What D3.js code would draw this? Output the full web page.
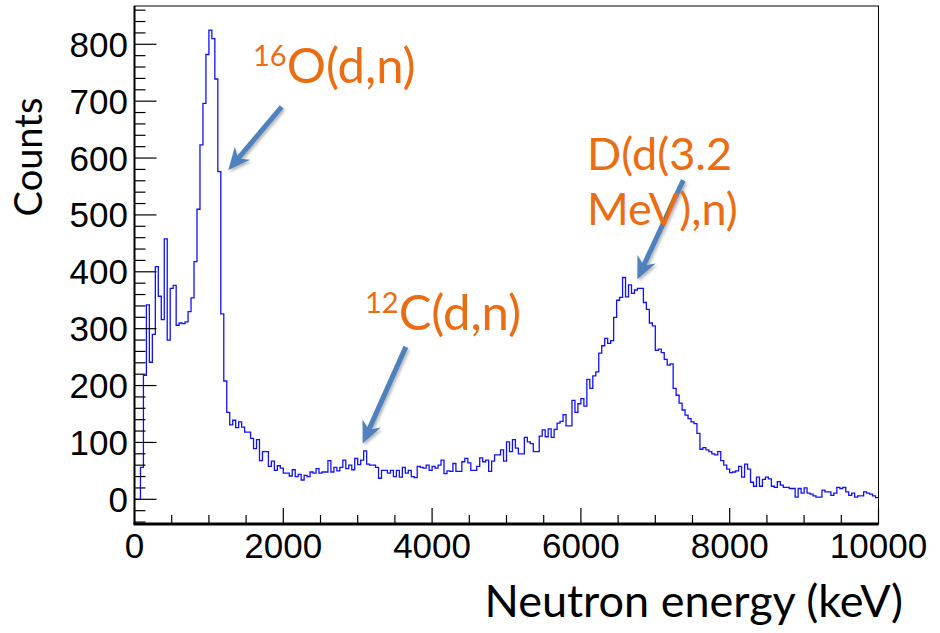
<!DOCTYPE html>
<html>
<head>
<meta charset="utf-8">
<script src="https://cdn.jsdelivr.net/npm/d3@7"></script>
<style>
  body { margin: 0; background: #ffffff; }
  svg { display: block; }
</style>
</head>
<body>
<svg id="chart"></svg>
<script>
// Histogram: neutron energy spectrum, 40 keV bins from 0 to 10000 keV
const binWidth = 40;
const counts = [
  0, 0, 56, 218, 342, 241, 290, 409, 357, 316,
  458, 280, 371, 376, 306, 310, 309, 312, 330, 354,
  418, 510, 623, 696, 782, 825, 810, 739, 576, 326,
  208, 153, 131, 139, 126, 136, 127, 118, 118, 107,
  89, 105, 68, 84, 84, 58, 67, 51, 59, 55,
  46, 46, 41, 52, 40, 44, 34, 42, 40, 48,
  46, 54, 46, 48, 48, 68, 48, 56, 50, 56,
  69, 54, 60, 52, 72, 61, 69, 85, 62, 60,
  60, 56, 37, 51, 51, 46, 51, 40, 51, 39,
  56, 46, 51, 40, 38, 58, 56, 55, 60, 51,
  58, 55, 60, 69, 45, 50, 49, 63, 49, 49,
  66, 72, 64, 51, 51, 58, 73, 66, 69, 49,
  67, 78, 78, 87, 67, 101, 84, 105, 90, 80,
  80, 109, 101, 98, 84, 84, 111, 122, 110, 124,
  109, 123, 134, 137, 149, 129, 129, 174, 153, 168,
  177, 164, 211, 195, 217, 224, 257, 270, 283, 274,
  279, 320, 350, 355, 390, 356, 377, 362, 368, 371,
  371, 346, 334, 310, 305, 262, 264, 258, 246, 236,
  238, 195, 183, 169, 157, 148, 142, 136, 133, 116,
  88, 91, 87, 84, 80, 78, 84, 68, 60, 53,
  47, 48, 50, 58, 39, 62, 53, 30, 23, 39,
  23, 35, 39, 36, 23, 21, 31, 25, 21, 21,
  19, 19, 4, 19, 11, 20, 11, 9, 6, 4,
  4, 16, 13, 13, 7, 11, 21, 19, 21, 13,
  7, 11, 4, 6, 6, 13, 11, 9, 6, 3
];

// Axis ticks
const xMajorTicks = [0, 2000, 4000, 6000, 8000, 10000];
const yMajorTicks = [0, 100, 200, 300, 400, 500, 600, 700, 800];

// Annotation labels (superscript, main text lines) and arrows, in data units
const labelSup = ["16", "12", ""];
const labelText = [["O(d,n)"], ["C(d,n)"], ["D(d(3.2", "MeV),n)"]];
const labelAt = [[1593, 732], [3098, 298], [6082, 579]]; // [keV, counts] of first baseline
const arrowFrom = [[1978, 690], [3647, 268], [7376, 561]];
const arrowTo = [[1261, 579], [3067, 98], [6758, 387]];

const width = 940;
const height = 633;

const svg = d3.select("#chart").attr("width", width).attr("height", height);

svg.append("rect").attr("width", width).attr("height", height).attr("fill", "#ffffff");

// Scales (frame 134.5..878.5 x 6..524)
const x = d3.scaleLinear().domain([0, 10000]).range([134.5, 878.5]);
const y = d3.scaleLinear().domain([-43.4, 867.3]).range([524, 6]);

const [x0, x1] = x.range();
const [yb, yt] = y.range();

// Frame
svg
  .append("rect")
  .attr("x", x0)
  .attr("y", yt)
  .attr("width", x1 - x0)
  .attr("height", yb - yt)
  .attr("fill", "none")
  .attr("stroke", "#000")
  .attr("stroke-width", 1);

// Histogram step line
const steps = [];
counts.forEach((c, i) => {
  steps.push([i * binWidth, c]);
  steps.push([(i + 1) * binWidth, c]);
});
const line = d3
  .line()
  .x((d) => x(d[0]))
  .y((d) => y(d[1]));

svg
  .append("path")
  .datum(steps)
  .attr("d", line)
  .attr("fill", "none")
  .attr("stroke", "#1010ff")
  .attr("stroke-width", 1.3)
  .attr("stroke-linejoin", "miter");

// X axis: ticks pointing up inside the frame
const xAxis = svg.append("g");
const xMinor = d3.range(0, 10001, 500).filter((v) => !xMajorTicks.includes(v));
xAxis
  .selectAll(".xminor")
  .data(xMinor)
  .enter()
  .append("line")
  .attr("x1", (d) => x(d))
  .attr("x2", (d) => x(d))
  .attr("y1", yb)
  .attr("y2", yb - 9)
  .attr("stroke", "#000")
  .attr("stroke-width", 1.2);
xAxis
  .selectAll(".xmajor")
  .data(xMajorTicks)
  .enter()
  .append("line")
  .attr("x1", (d) => x(d))
  .attr("x2", (d) => x(d))
  .attr("y1", yb)
  .attr("y2", yb - 16)
  .attr("stroke", "#000")
  .attr("stroke-width", 1.2);
xAxis
  .selectAll("text")
  .data(xMajorTicks)
  .enter()
  .append("text")
  .attr("x", (d) => x(d))
  .attr("y", 558)
  .attr("text-anchor", "middle")
  .attr("font-family", "'Liberation Sans', Arial, sans-serif")
  .attr("font-size", 35)
  .text((d) => d);

// Y axis: ticks pointing right inside the frame
const yAxis = svg.append("g");
const yMinor = d3.range(-40, 861, 20).filter((v) => !yMajorTicks.includes(v));
yAxis
  .selectAll(".yminor")
  .data(yMinor)
  .enter()
  .append("line")
  .attr("x1", x0)
  .attr("x2", x0 + 11)
  .attr("y1", (d) => y(d))
  .attr("y2", (d) => y(d))
  .attr("stroke", "#000")
  .attr("stroke-width", 1.2);
yAxis
  .selectAll(".ymajor")
  .data(yMajorTicks)
  .enter()
  .append("line")
  .attr("x1", x0)
  .attr("x2", x0 + 22)
  .attr("y1", (d) => y(d))
  .attr("y2", (d) => y(d))
  .attr("stroke", "#000")
  .attr("stroke-width", 1.2);
yAxis
  .selectAll("text")
  .data(yMajorTicks)
  .enter()
  .append("text")
  .attr("x", 128)
  .attr("y", (d) => y(d) + 12.5)
  .attr("text-anchor", "end")
  .attr("font-family", "'Liberation Sans', Arial, sans-serif")
  .attr("font-size", 35)
  .text((d) => d);

// Thick left and bottom axis lines
svg
  .append("line")
  .attr("x1", x0)
  .attr("x2", x0)
  .attr("y1", yt)
  .attr("y2", yb)
  .attr("stroke", "#000")
  .attr("stroke-width", 2);
svg
  .append("line")
  .attr("x1", x0 - 1)
  .attr("x2", x1)
  .attr("y1", yb)
  .attr("y2", yb)
  .attr("stroke", "#000")
  .attr("stroke-width", 3);

// Axis titles
svg
  .append("text")
  .attr("transform", "translate(42,157) rotate(-90)")
  .attr("text-anchor", "middle")
  .attr("font-family", "Lato, sans-serif")
  .attr("font-size", 38)
  .text("Counts");

svg
  .append("text")
  .attr("x", 903)
  .attr("y", 617)
  .attr("text-anchor", "end")
  .attr("font-family", "Lato, sans-serif")
  .attr("font-size", 45)
  .text("Neutron energy (keV)");

// Arrows with a soft shadow
const defs = svg.append("defs");
const shadow = defs.append("filter").attr("id", "shadow").attr("x", "-20%").attr("y", "-20%").attr("width", "140%").attr("height", "140%");
shadow
  .append("feDropShadow")
  .attr("dx", 1.5)
  .attr("dy", 2)
  .attr("stdDeviation", 1.5)
  .attr("flood-color", "#000")
  .attr("flood-opacity", 0.3);

const arrowColor = "#4f81bd";
arrowFrom.forEach((from, i) => {
  const to = arrowTo[i];
  const sx = x(from[0]), sy = y(from[1]);
  const tx = x(to[0]), ty = y(to[1]);
  const ang = Math.atan2(ty - sy, tx - sx);
  const headLen = 22, headHalf = 10, notch = 7;
  const ux = Math.cos(ang), uy = Math.sin(ang);
  const bx = tx - ux * headLen, by = ty - uy * headLen;
  const g = svg.append("g").style("filter", "url(#shadow)");
  g.append("line")
    .attr("x1", sx)
    .attr("y1", sy)
    .attr("x2", tx - ux * (headLen - notch))
    .attr("y2", ty - uy * (headLen - notch))
    .attr("stroke", arrowColor)
    .attr("stroke-width", 5);
  const head = [
    [tx, ty],
    [bx - uy * headHalf, by + ux * headHalf],
    [tx - ux * (headLen - notch), ty - uy * (headLen - notch)],
    [bx + uy * headHalf, by - ux * headHalf]
  ];
  g.append("path")
    .attr("d", "M" + head.map((p) => p.join(",")).join("L") + "Z")
    .attr("fill", arrowColor);
});

// Annotation labels
const labelColor = "#ec6c12";
const labelSize = [49, 49, 45];
labelText.forEach((lines, i) => {
  const t = svg
    .append("text")
    .attr("x", x(labelAt[i][0]))
    .attr("y", y(labelAt[i][1]))
    .attr("font-family", "Lato, sans-serif")
    .attr("fill", labelColor);
  if (labelSup[i]) {
    t.append("tspan").attr("font-size", 29).attr("dy", -17).text(labelSup[i]);
    t.append("tspan").attr("font-size", labelSize[i]).attr("dy", 17).text(lines[0]);
  } else {
    lines.forEach((ln, j) => {
      t.append("tspan")
        .attr("x", x(labelAt[i][0]))
        .attr("dy", j === 0 ? 0 : 55)
        .attr("font-size", labelSize[i])
        .text(ln);
    });
  }
});
</script>
</body>
</html>
